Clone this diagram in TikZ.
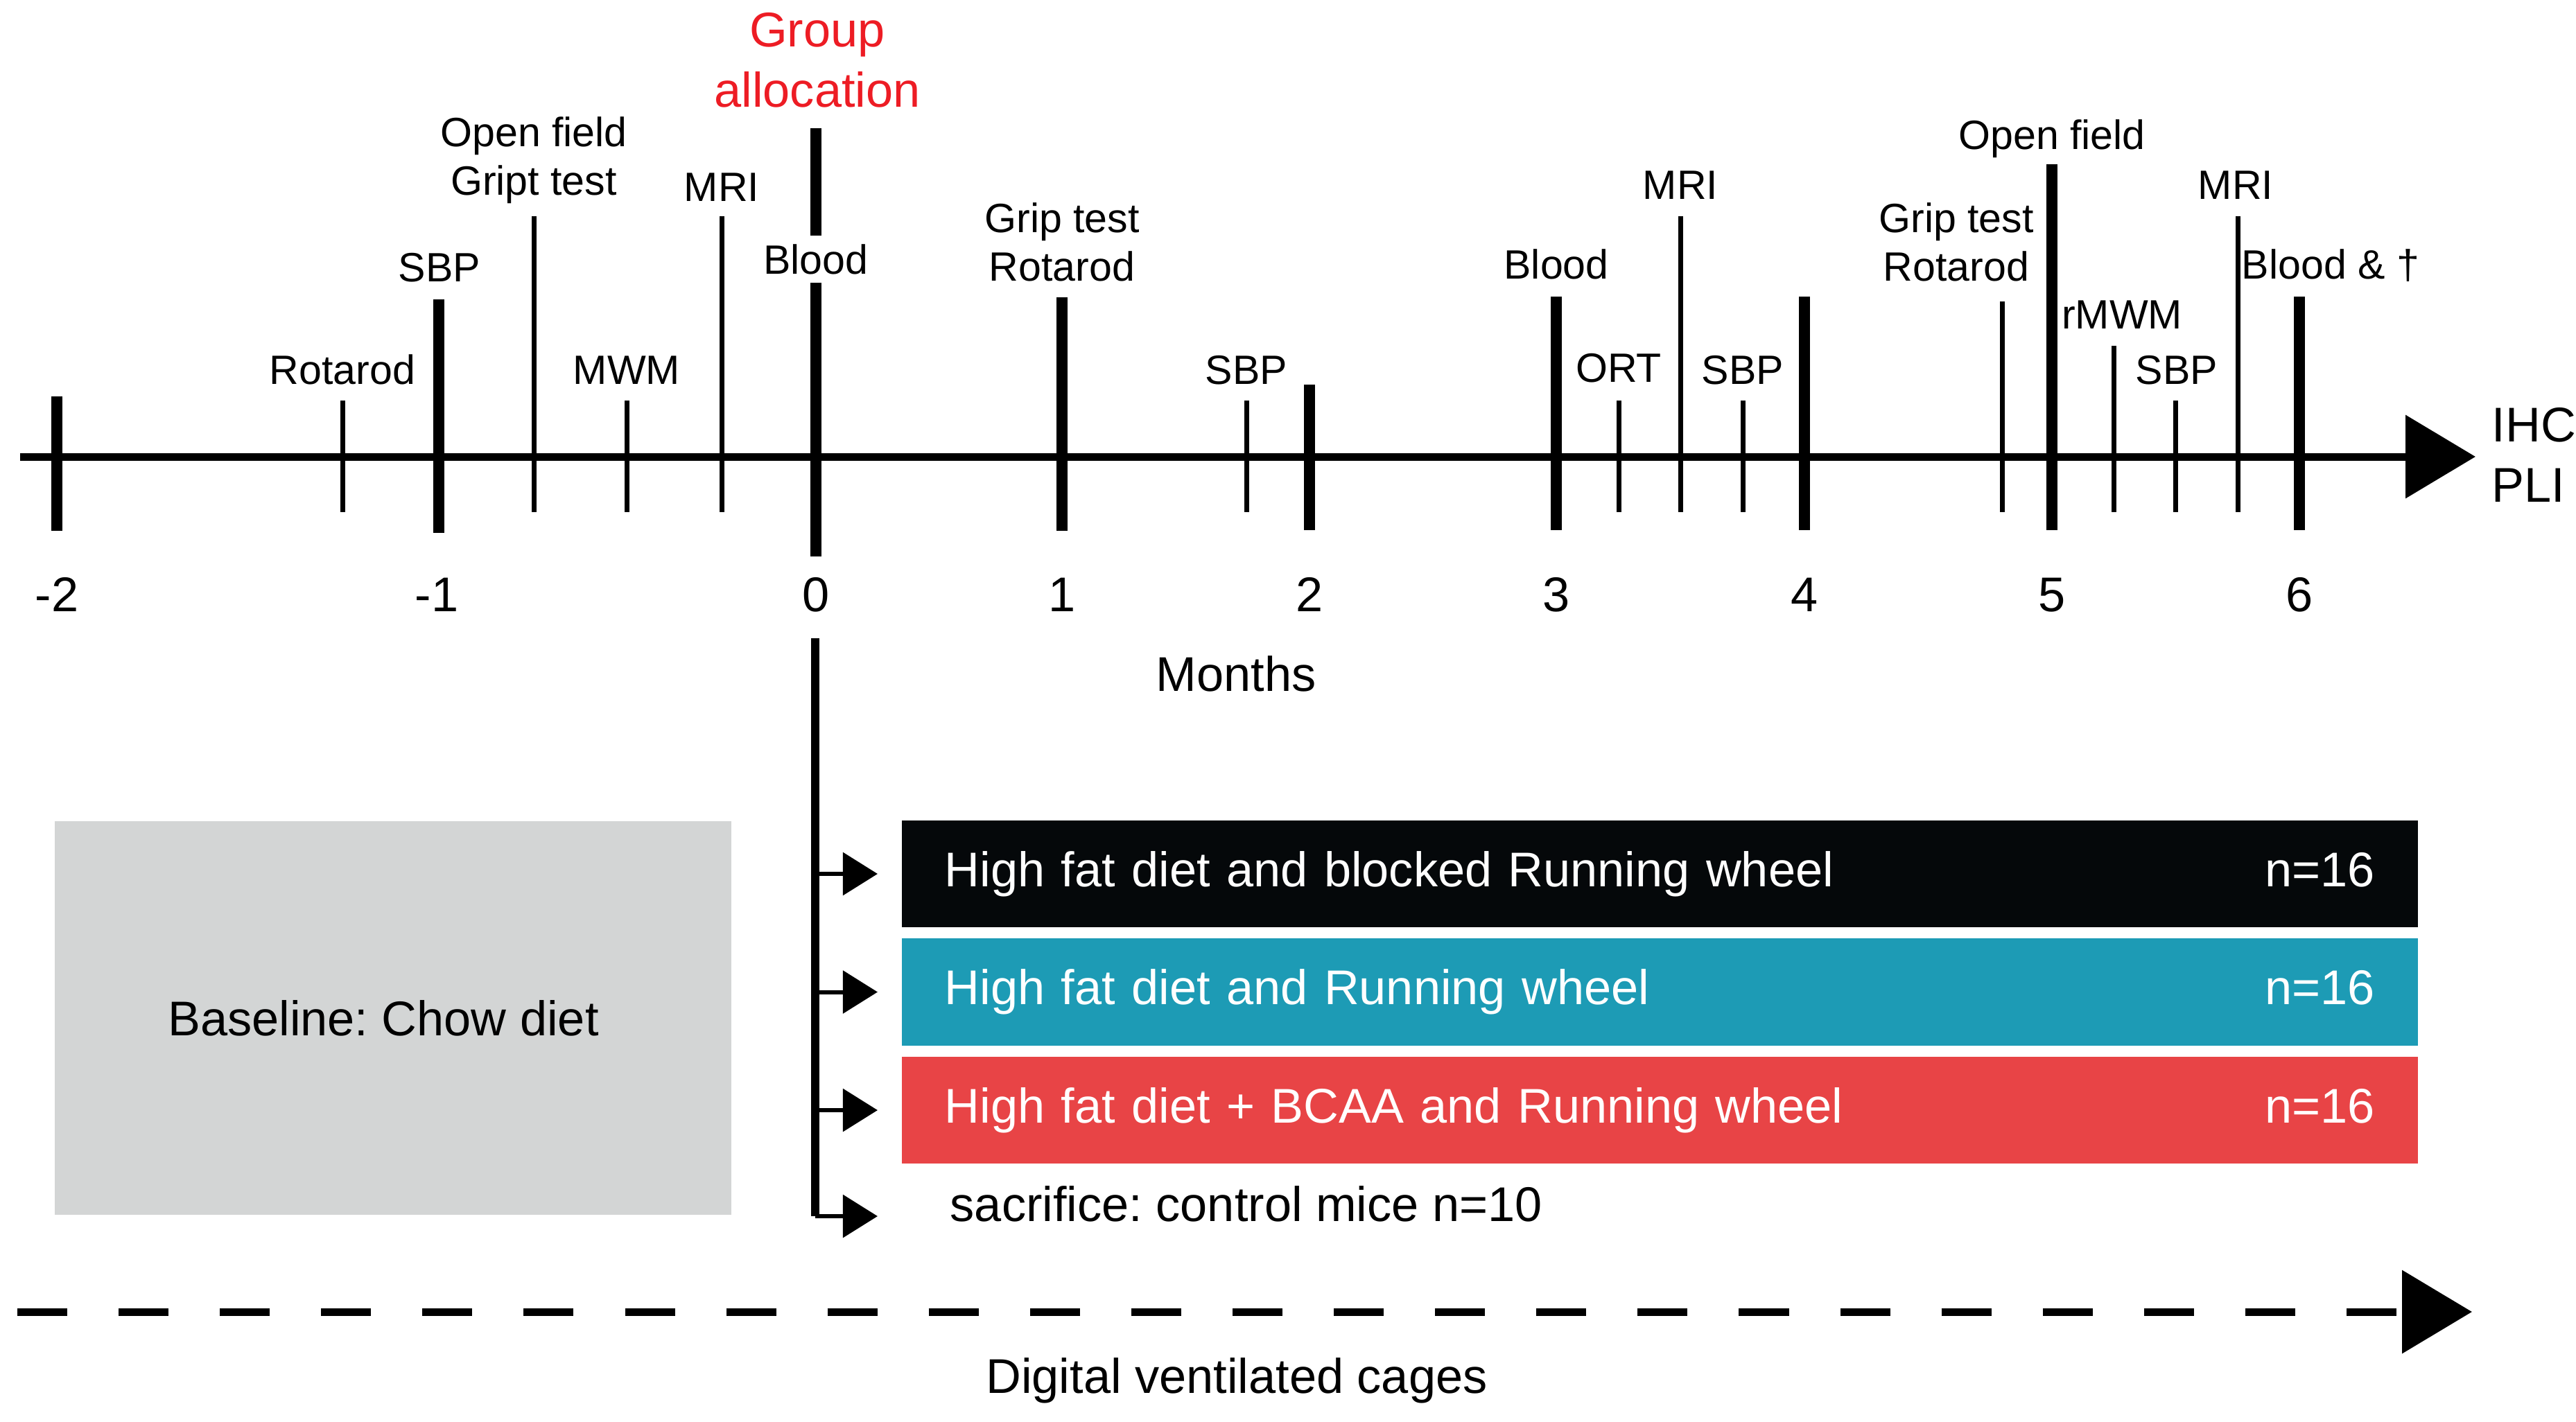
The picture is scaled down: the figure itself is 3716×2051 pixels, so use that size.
\documentclass[tikz,border=0pt]{standalone}
\usepackage{fontspec}
\setmainfont{Liberation Sans}
\usetikzlibrary{arrows.meta,positioning}
\frenchspacing

\definecolor{allocred}{RGB}{237,28,36}
\definecolor{blockedblack}{RGB}{5,8,10}
\definecolor{wheelteal}{RGB}{29,155,181}
\definecolor{bcaared}{RGB}{232,68,70}
\definecolor{chowgray}{RGB}{211,213,213}

\begin{document}
\begin{tikzpicture}[
    x=0.01cm, y=-0.01cm,
    evt/.style={
        font=\fontsize{16.8}{19.9}\selectfont,
        inner sep=0pt,
        anchor=base,
        align=center
    },
    big/.style={
        font=\fontsize{20}{24.5}\selectfont,
        inner sep=0pt,
        anchor=base,
        align=center
    },
    major/.style={line width=0.16cm},
    minor/.style={line width=0.07cm},
    timeaxis/.style={line width=0.11cm, -{Triangle[length=1.01cm, width=1.18cm]}},
    grpbox/.style={
        rectangle,
        anchor=west,
        minimum width=21.86cm,
        minimum height=1.54cm,
        text width=20.62cm,
        inner xsep=0.62cm,
        inner ysep=0pt,
        text=white,
        font=\fontsize{20}{24}\selectfont
    },
    branch/.style={->, line width=0.06cm, shorten >=0.34cm},
    >={Triangle[length=0.5cm, width=0.61cm]}
]
    \useasboundingbox (0,0) rectangle (3716,2051);

    % Time axis with month ticks
    \coordinate (axisstart) at (29,659);
    \coordinate (axisend) at (3571,659);
    \draw[timeaxis] (axisstart) -- (axisend);

    \draw[major] (82,572) -- (82,766);
    \draw[major] (633,432) -- (633,769);
    \draw[major] (1532,429) -- (1532,766);
    \draw[major] (1889,555) -- (1889,765);
    \draw[major] (2245,428) -- (2245,765);
    \draw[major] (2603,428) -- (2603,765);
    \draw[major] (2960,237) -- (2960,765);
    \draw[major] (3317,428) -- (3317,765);

    % Month 0 is split by the Blood label
    \node[evt, inner ysep=0.115cm] (blood0) at (1177,395) {Blood};
    \draw[major] (1177,185) -- (blood0.north);
    \draw[major] (blood0.south) -- (1177,803);
    \node[big, text=allocred] (alloc) at (1179,154) {Group\\allocation};

    % Measurement ticks
    \draw[minor] (494,578) -- (494,739);
    \draw[minor] (770,312) -- (770,739);
    \draw[minor] (904,578) -- (904,739);
    \draw[minor] (1041,312) -- (1041,739);
    \draw[minor] (1798,578) -- (1798,739);
    \draw[minor] (2335,578) -- (2335,739);
    \draw[minor] (2424,312) -- (2424,739);
    \draw[minor] (2514,578) -- (2514,739);
    \draw[minor] (2888,435) -- (2888,739);
    \draw[minor] (3049,499) -- (3049,739);
    \draw[minor] (3138,578) -- (3138,739);
    \draw[minor] (3228,312) -- (3228,739);

    % Measurement labels
    \node[evt] (rotarodA) at (494,554) {Rotarod};
    \node[evt] (sbpA) at (634,406) {SBP};
    \node[evt] (openA) at (770,281) {Open field\\Gript test};
    \node[evt] (mwm) at (904,554) {MWM};
    \node[evt] (mriA) at (1041,290) {MRI};
    \node[evt] (gripB) at (1532,405) {Grip test\\Rotarod};
    \node[evt] (sbpB) at (1798,554) {SBP};
    \node[evt] (blood3) at (2245,402) {Blood};
    \node[evt] (ort) at (2335,551) {ORT};
    \node[evt] (mriB) at (2424,287) {MRI};
    \node[evt] (sbpC) at (2514,554) {SBP};
    \node[evt] (gripC) at (2822,405) {Grip test\\Rotarod};
    \node[evt] (openC) at (2960,215) {Open field};
    \node[evt] (rmwm) at (3061,474) {rMWM};
    \node[evt] (sbpD) at (3140,554) {SBP};
    \node[evt] (mriC) at (3225,287) {MRI};
    \node[evt] (blood6) at (3362,402) {Blood \& †};
    \node[big, anchor=base west, align=left, font=\fontsize{20}{24.7}\selectfont]
        (ihc) at (3594,724) {IHC\\PLI};

    % Month numbers
    \node[big] (mneg2) at (82,882) {-2};
    \node[big] (mneg1) at (630,882) {-1};
    \node[big] (m0) at (1177,882) {0};
    \node[big] (m1) at (1532,882) {1};
    \node[big] (m2) at (1889,882) {2};
    \node[big] (m3) at (2245,882) {3};
    \node[big] (m4) at (2603,882) {4};
    \node[big] (m5) at (2960,882) {5};
    \node[big] (m6) at (3317,882) {6};
    \node[big] (months) at (1783,997) {Months};

    % Baseline period and the groups
    \node[rectangle, fill=chowgray, minimum width=9.76cm, minimum height=5.68cm,
        font=\fontsize{20}{24}\selectfont] (chow) at (567,1469) {Baseline: Chow diet\hspace*{0.28cm}};

    \node[grpbox, fill=blockedblack] (blocked) at (1300,1261)
        {High fat diet and blocked Running wheel\hfill n=16};
    \node[grpbox, fill=wheelteal, below=0.15cm of blocked] (wheel)
        {High fat diet and Running wheel\hfill n=16};
    \node[grpbox, fill=bcaared, below=0.15cm of wheel] (bcaa)
        {High fat diet + BCAA and Running wheel\hfill n=16};
    \node[anchor=west, inner xsep=0.7cm, inner ysep=0pt, text height=0.2cm, text depth=0.06cm,
        font=\fontsize{20}{24}\selectfont] (control) at (1300,1755) {sacrifice: control mice n=10};

    % Allocation branches
    \coordinate (split) at (1176,921);
    \coordinate (corner) at (1176,1755);
    \draw[line width=0.12cm] (split) -- (corner);
    \draw[branch] (split |- blocked.west) -- (blocked.west);
    \draw[branch] (split |- wheel.west) -- (wheel.west);
    \draw[branch] (split |- bcaa.west) -- (bcaa.west);
    \draw[branch] (corner) -- (control.west);

    % Cage monitoring
    \coordinate (cagestart) at (25,1893);
    \coordinate (cageend) at (3566,1893);
    \draw[timeaxis, dash pattern=on 0.72cm off 0.74cm] (cagestart) -- (cageend);
    \node[big] (cages) at (1784,2010) {Digital ventilated cages};

\end{tikzpicture}
\end{document}
